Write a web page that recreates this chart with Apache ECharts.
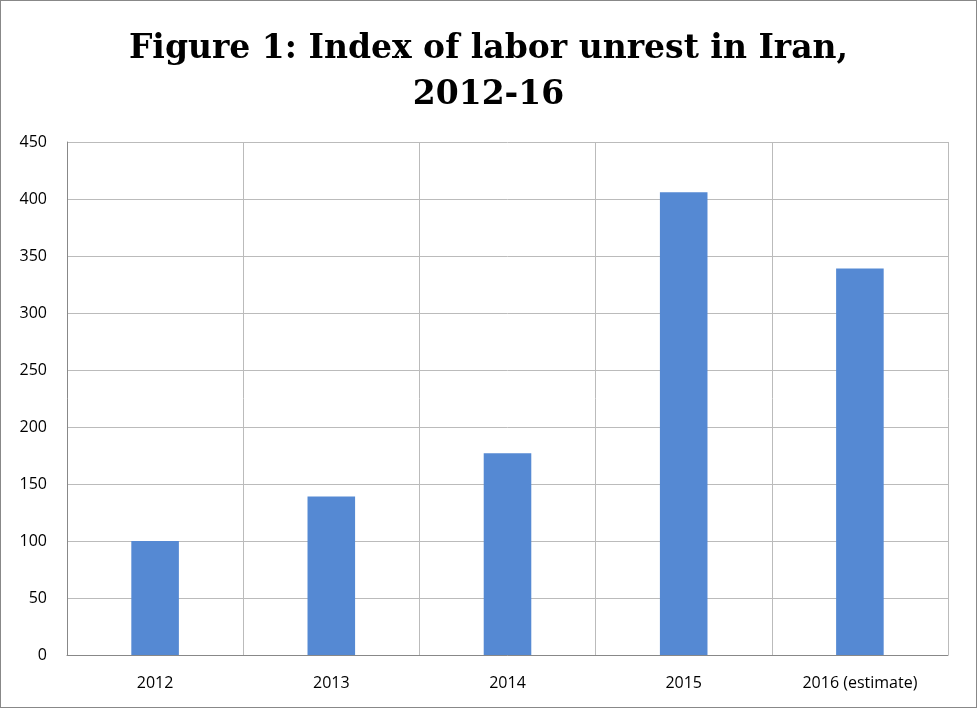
<!DOCTYPE html>
<html>
<head>
<meta charset="utf-8">
<script src="https://cdn.jsdelivr.net/npm/echarts@6/dist/echarts.min.js"></script>
<style>
  html, body { margin: 0; padding: 0; background: #fff; }
  #chart { width: 975px; height: 706px; border: 1px solid #888; }
</style>
</head>
<body>
<div id="chart"></div>
<script>
(function(){
    var years = ['2012', '2013', '2014', '2015', '2016 (estimate)'];
    var unrest = [100, 139, 177, 406, 339];

    var myChart = echarts.init(document.getElementById('chart'));
    myChart.setOption({
      animation: false,
      title: {
        text: 'Figure 1: Index of labor unrest in Iran,\n2012-16',
        left: 'center',
        top: 20,
        textStyle: {
          fontFamily: 'DejaVu Serif',
          fontWeight: 'bold',
          fontSize: 33,
          lineHeight: 46,
          color: '#000'
        }
      },
      grid: { left: 66, right: 28, top: 141, bottom: 52 },
      xAxis: {
        type: 'category',
        data: years,
        axisTick: { show: false },
        axisLine: { lineStyle: { color: '#888' } },
        axisLabel: { color: '#000', fontSize: 16, fontFamily: 'Open Sans', margin: 20 },
        splitLine: { show: true, lineStyle: { color: '#bbb' } }
      },
      yAxis: {
        type: 'value',
        min: 0, max: 450, interval: 50,
        axisLine: { show: true, lineStyle: { color: '#888' } },
        axisLabel: { color: '#000', fontSize: 16, fontFamily: 'Open Sans', margin: 20 },
        splitLine: { lineStyle: { color: '#bbb' } }
      },
      series: [{
        type: 'bar',
        data: unrest,
        barWidth: '27%',
        itemStyle: { color: '#5589d3' }
      }]
    });
})();
</script>
</body>
</html>
